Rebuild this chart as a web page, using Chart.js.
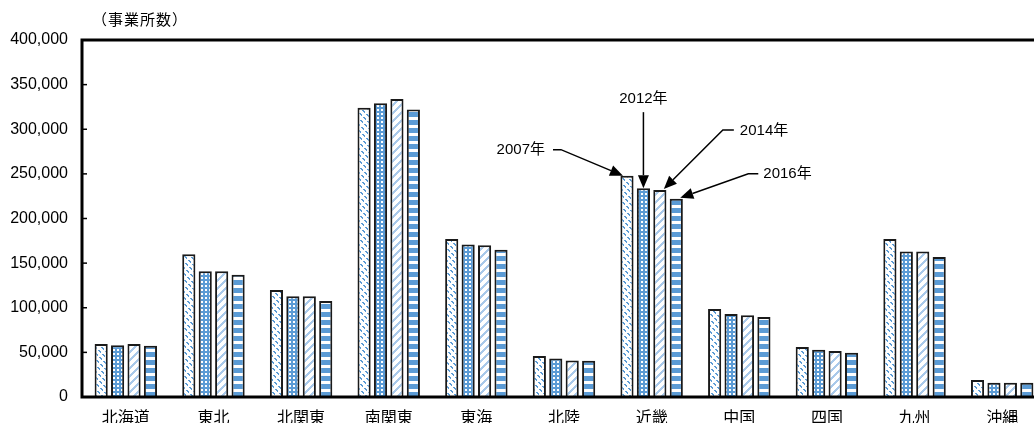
<!DOCTYPE html>
<html lang="ja">
<head>
<meta charset="utf-8">
<script src="https://cdn.jsdelivr.net/npm/chart.js@4.4.1/dist/chart.umd.min.js"></script>
<style>
  html, body { margin: 0; padding: 0; background: #fff; overflow: hidden; }
  #wrap { width: 1050px; height: 430px; }
</style>
</head>
<body>
<div id="wrap"><canvas id="Chart1" width="1050" height="430"></canvas></div>
<script>
const regions = ['北海道', '東北', '北関東', '南関東', '東海', '北陸', '近畿', '中国', '四国', '九州', '沖縄'];
const years = ['2007年', '2012年', '2014年', '2016年'];
const data2007 = [59500, 160000, 120000, 324000, 177000, 46000, 248000, 98500, 56000, 177000, 19000];
const data2012 = [58000, 141000, 113000, 329000, 171000, 43000, 234000, 93000, 53000, 163000, 16000];
const data2014 = [59500, 141000, 113000, 334000, 170000, 41000, 232000, 91500, 51500, 163000, 16000];
const data2016 = [57500, 137000, 107500, 322000, 165000, 40500, 222000, 89500, 49500, 157000, 16000];
const yTicks = [0, 50000, 100000, 150000, 200000, 250000, 300000, 350000, 400000];
const unitLabel = '（事業所数）';
const calloutRegion = '近畿';

const BLUE = '#5b9bd5';
const LIGHT = '#a9c9ea';
const FONT = "'Liberation Sans', 'Noto Sans CJK JP', sans-serif";

const ctx1 = document.getElementById('Chart1').getContext('2d');

// small pixel tiles for the hatched fills
function tile(w, h, paint) {
    const c = document.createElement('canvas');
    c.width = w; c.height = h;
    const g = c.getContext('2d');
    g.fillStyle = '#fff';
    g.fillRect(0, 0, w, h);
    for (let y = 0; y < h; y++)
        for (let x = 0; x < w; x++) {
            const col = paint(x, y);
            if (col) { g.fillStyle = col; g.fillRect(x, y, 1, 1); }
        }
    return ctx1.createPattern(c, 'repeat');
}

const fill2007 = tile(24, 24, (x, y) => ((x - y + 24) % 6 < 2 && (x + y) % 8 < 5) ? BLUE : null);
const fill2012 = tile(4, 4, (x, y) => (x >= 1 && x <= 2 && y >= 1 && y <= 2) ? null : BLUE);
const fill2014 = tile(8, 8, (x, y) => ((x + y) % 8 < 3) ? LIGHT : null);
const fill2016 = tile(1, 8, (x, y) => (y < 5) ? BLUE : null);

// [tip offset from bar top], then line points relative to the tip, then text
const callouts = [
    { tip: [-4, 0], path: [[-70, -26], [-62, -26]], text: [-78, -26], align: 'right' },
    { tip: [0, 0], path: [[0, -76]], text: [0, -89], align: 'center' },
    { tip: [4, -1], path: [[70, -59], [59, -59]], text: [76, -58], align: 'left' },
    { tip: [4, -1], path: [[78, -24], [68, -24]], text: [83, -24], align: 'left' }
];

const frame = {
    id: 'frame',
    afterDatasetsDraw(chart) {
        const { ctx, chartArea: a, scales: { y } } = chart;
        ctx.save();
        ctx.strokeStyle = '#000';
        ctx.lineWidth = 3;
        ctx.strokeRect(a.left, a.top, a.right - a.left, a.bottom - a.top);
        ctx.lineWidth = 1.5;
        y.ticks.forEach(t => {
            const py = y.getPixelForValue(t.value);
            ctx.beginPath();
            ctx.moveTo(a.left, py);
            ctx.lineTo(a.left + 5, py);
            ctx.stroke();
        });

        ctx.fillStyle = '#000';
        ctx.font = "15px 'Noto Sans CJK JP', sans-serif";
        ctx.letterSpacing = '1px';
        ctx.textAlign = 'left';
        ctx.textBaseline = 'middle';
        ctx.fillText(unitLabel, a.left + 10, a.top - 21);
        ctx.letterSpacing = '0px';

        // arrows pointing at each year's bar
        const k = regions.indexOf(calloutRegion);
        ctx.font = '15px ' + FONT;
        ctx.lineWidth = 1.5;
        callouts.forEach((c, i) => {
            const bar = chart.getDatasetMeta(i).data[k];
            const tx = bar.x + c.tip[0], ty = bar.y + c.tip[1];
            const pts = c.path.map(p => [tx + p[0], ty + p[1]]);
            ctx.beginPath();
            ctx.moveTo(pts[0][0], pts[0][1]);
            pts.slice(1).forEach(p => ctx.lineTo(p[0], p[1]));
            const last = pts[pts.length - 1];
            const ang = Math.atan2(ty - last[1], tx - last[0]);
            const len = 13, half = 5.5;
            const bx = tx - len * Math.cos(ang), by = ty - len * Math.sin(ang);
            ctx.lineTo(bx, by);
            ctx.stroke();
            ctx.beginPath();
            ctx.moveTo(tx, ty);
            ctx.lineTo(bx + half * Math.sin(ang), by - half * Math.cos(ang));
            ctx.lineTo(bx - half * Math.sin(ang), by + half * Math.cos(ang));
            ctx.closePath();
            ctx.fill();
            ctx.textAlign = c.align;
            ctx.fillText(years[i], tx + c.text[0], ty + c.text[1]);
        });
        ctx.restore();
    }
};

function series(label, values, fill) {
    return {
        label: label,
        data: values,
        backgroundColor: fill,
        borderColor: '#1a1a1a',
        borderWidth: 2,
        categoryPercentage: 0.75,
        barPercentage: 0.8
    };
}

if (ctx1)
    new Chart(ctx1, {
        type: 'bar',
        data: {
            labels: regions,
            datasets: [
                series(years[0], data2007, fill2007),
                series(years[1], data2012, fill2012),
                series(years[2], data2014, fill2014),
                series(years[3], data2016, fill2016)
            ]
        },
        options: {
            responsive: false,
            animation: false,
            events: [],
            layout: { padding: { top: 40, right: 4, left: 0, bottom: 0 } },
            plugins: {
                legend: { display: false },
                tooltip: { enabled: false }
            },
            scales: {
                x: {
                    grid: { display: false, drawTicks: false },
                    border: { display: false },
                    ticks: { color: '#000', padding: 12, font: { family: FONT, size: 16 } },
                    afterFit: s => { s.height = 33; }
                },
                y: {
                    min: 0,
                    max: 400000,
                    grid: { display: false, drawTicks: false },
                    border: { display: false },
                    afterBuildTicks: s => { s.ticks = yTicks.map(v => ({ value: v })); },
                    ticks: {
                        color: '#000',
                        padding: 14,
                        font: { family: FONT, size: 16 },
                        callback: v => v.toLocaleString('en-US')
                    },
                    afterFit: s => { s.width = 82; }
                }
            }
        },
        plugins: [frame]
    });
</script>
</body>
</html>
